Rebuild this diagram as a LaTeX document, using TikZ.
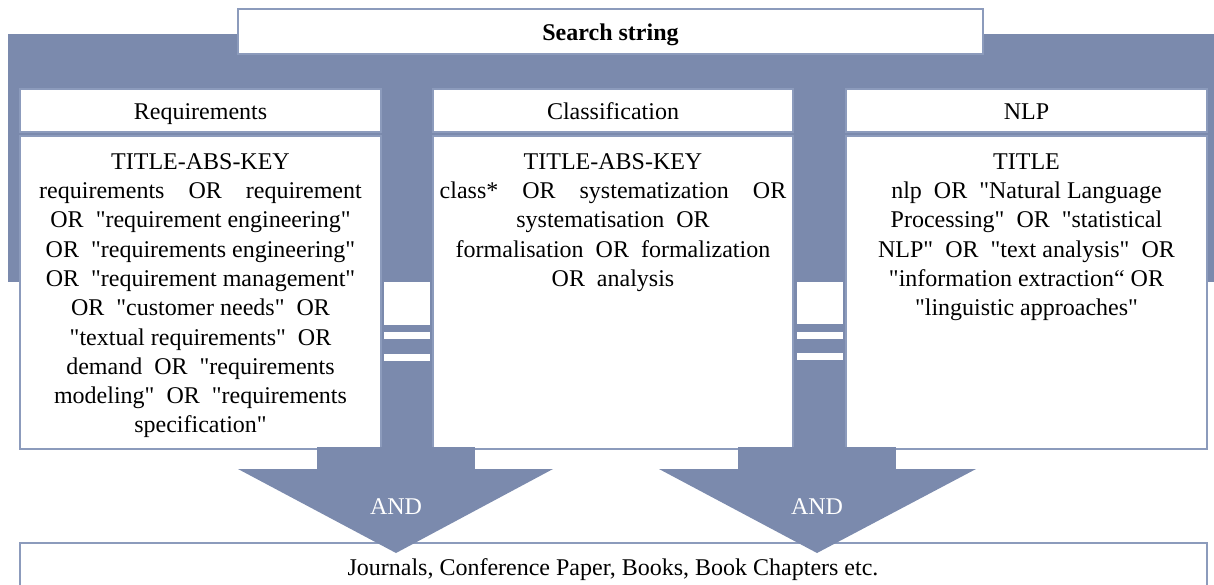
\documentclass[tikz,border=0pt]{standalone}
\usepackage{fontspec}
\setmainfont{Liberation Serif}[Ligatures=TeXOff]
\definecolor{bandblue}{RGB}{123,138,173}
\definecolor{edgeblue}{RGB}{140,155,188}
\tikzset{
  panel/.style={draw=edgeblue, line width=1.5pt, fill=white, inner sep=0pt, outer sep=0pt},
  txt/.style={font=\fontsize{24}{29.3}\selectfont},
  oneline/.style={txt, text height=17pt, text depth=0pt},
  bodytext/.style={txt, align=center, anchor=north, inner sep=0pt},
  band/.style={fill=bandblue, draw=none},
  cut/.style={fill=white, draw=none},
  andlabel/.style={oneline, text=white, inner sep=0pt},
}
\begin{document}
\begin{tikzpicture}[x=1pt,y=-1pt]
\useasboundingbox (0,0) rectangle (1214,584);
\clip (0,0) rectangle (1214,584);
% background band and columns
\fill[band] (8,34) rectangle (1214,282);
\fill[band] (381,282) rectangle (433,449);
\fill[band] (793,282) rectangle (846,449);
% white cut-outs in the columns
\fill[cut] (384,282) rectangle (430,325);
\fill[cut] (384,332) rectangle (430,339);
\fill[cut] (384,354) rectangle (430,361);
\fill[cut] (797,282) rectangle (843,324);
\fill[cut] (797,332) rectangle (843,339);
\fill[cut] (797,353) rectangle (843,360);
% search string
\node[panel, oneline, minimum width=745pt, minimum height=45pt, font=\fontsize{24}{29.3}\selectfont\bfseries] (search) at (610.5,31.5) {Search string};
% headers
\node[panel, oneline, minimum width=361pt, minimum height=43pt] (reqh) at (200.5,110.5) {Requirements};
\node[panel, oneline, minimum width=360pt, minimum height=43pt] (clsh) at (613,110.5) {Classification};
\node[panel, oneline, minimum width=361pt, minimum height=43pt] (nlph) at (1026.5,110.5) {NLP};
% bodies
\node[panel, minimum width=361pt, minimum height=313pt] (reqb) at (200.5,292.5) {};
\node[panel, minimum width=360pt, minimum height=313pt] (clsb) at (613,292.5) {};
\node[panel, minimum width=361pt, minimum height=313pt] (nlpb) at (1026.5,292.5) {};
\node[bodytext] (reqt) at (200.5,151) {\rule{0pt}{18pt}TITLE-ABS-KEY\\
requirements~~~~OR~~~~requirement\\
OR~~"requirement engineering"\\
OR~~"requirements engineering"\\
OR~~"requirement management"\\
OR~~"customer needs"~~OR\\
"textual requirements"~~OR\\
demand~~OR~~"requirements\\
modeling"~~OR~~"requirements\\
specification"};
\node[bodytext] (clst) at (613,151) {\rule{0pt}{18pt}TITLE-ABS-KEY\\
class*~~~~OR~~~~systematization~~~~OR\\
systematisation~~OR\\
formalisation~~OR~~formalization\\
OR~~analysis};
\node[bodytext] (nlpt) at (1026.5,151) {\rule{0pt}{18pt}TITLE\\
nlp~~OR~~"Natural Language\\
Processing"~~OR~~"statistical\\
NLP"~~OR~~"text analysis"~~OR\\
"information extraction“~OR\\
"linguistic approaches"};
% result box
\node[panel, minimum width=1187pt, minimum height=60pt, anchor=north west] (res) at (20,543) {};
\node[oneline, inner sep=0pt] (rest) at (613,567) {Journals, Conference Paper, Books, Book Chapters etc.};
% arrows
\coordinate (a1) at (396,553);
\coordinate (a2) at (817,553);
\fill[band] (317,447) rectangle (475,469);
\fill[band] (238,469) -- (553,469) -- (a1) -- cycle;
\fill[band] (738,447) rectangle (896,469);
\fill[band] (659,469) -- (976,469) -- (a2) -- cycle;
\node[andlabel] (and1) at (396,506) {AND};
\node[andlabel] (and2) at (817,506) {AND};
\end{tikzpicture}
\end{document}
